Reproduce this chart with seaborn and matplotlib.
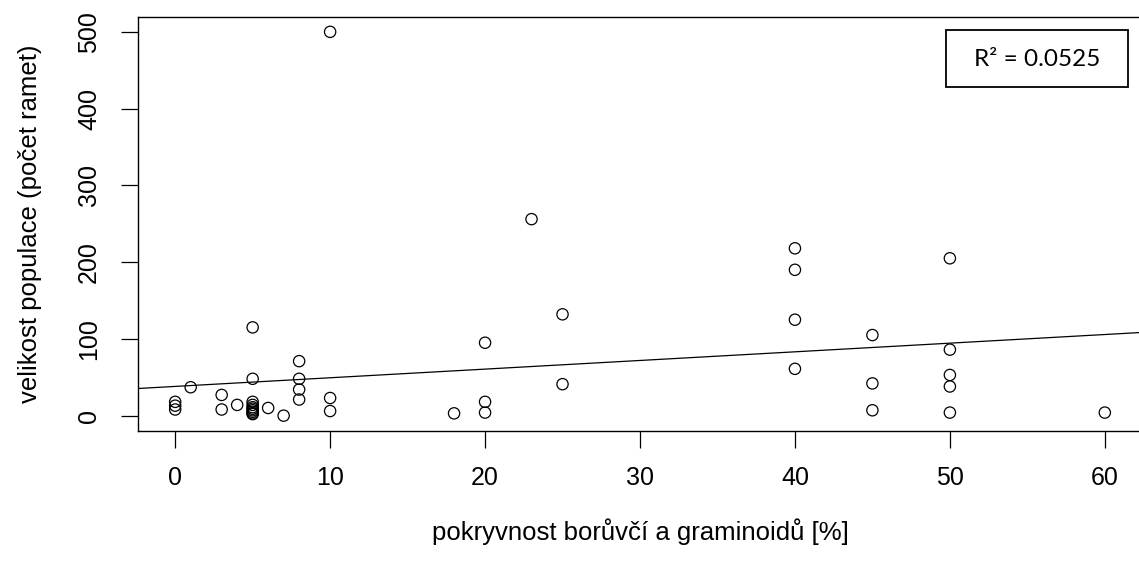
import numpy as np
import pandas as pd
import matplotlib
matplotlib.use("Agg")
import matplotlib.pyplot as plt
import seaborn as sns
from matplotlib.patches import Rectangle

# cover of bilberry and graminoids [%] and population size (number of ramets)
cover = [0, 0, 0, 1, 3, 3, 4,
         5, 5, 5, 5, 5, 5, 5, 5, 5, 5,
         6, 7, 8, 8, 8, 8, 10, 10, 10,
         18, 20, 20, 20, 23, 25, 25,
         40, 40, 40, 40, 45, 45, 45,
         50, 50, 50, 50, 50, 60]
ramets = [18, 13, 8, 37, 27, 8, 14,
          115, 48, 18, 14, 11, 9, 7, 5, 3, 2,
          10, 0, 71, 48, 34, 21, 500, 23, 6,
          3, 95, 18, 4, 256, 132, 41,
          218, 190, 125, 61, 105, 42, 7,
          205, 86, 53, 38, 4, 4]

x_ticks = [0, 10, 20, 30, 40, 50, 60]
y_ticks = [0, 100, 200, 300, 400, 500]
x_label = "pokryvnost borůvčí a graminoidů [%]"
y_label = "velikost populace (počet ramet)"
r2_text = "R² = 0.0525"

df = pd.DataFrame({"cover": cover, "ramets": ramets})

sns.set_theme(style="white")
plt.rcParams["font.family"] = ["Liberation Sans", "DejaVu Sans"]

fig = plt.figure(figsize=(11.39, 5.67), dpi=100)
fig.patch.set_facecolor("white")
# the plot region runs a little past the right edge of the figure
ax = fig.add_axes([138 / 1139, 136 / 567, 1004 / 1139, 414.5 / 567])
ax.set_facecolor("white")

# R-style 4 % padding around the data range
xmin, xmax = min(cover), max(cover)
ymin, ymax = min(ramets), max(ramets)
xpad = 0.04 * (xmax - xmin)
ypad = 0.04 * (ymax - ymin)
ax.set_xlim(xmin - xpad, xmax + xpad)
ax.set_ylim(ymin - ypad, ymax + ypad)

sns.scatterplot(data=df, x="cover", y="ramets", ax=ax, marker="o",
                s=66, facecolor="none", edgecolor="black", linewidth=0.9,
                legend=False)
sns.regplot(data=df, x="cover", y="ramets", ax=ax, scatter=False,
            ci=None, truncate=False, color="black",
            line_kws={"linewidth": 0.9})

for side in ["left", "bottom", "top", "right"]:
    ax.spines[side].set_visible(True)
    ax.spines[side].set_color("black")
    ax.spines[side].set_linewidth(1.0)

ax.set_xticks(x_ticks)
ax.set_yticks(y_ticks)
ax.set_xticklabels([str(t) for t in x_ticks])
ax.set_yticklabels([str(t) for t in y_ticks], rotation=90, va="center")
ax.tick_params(axis="both", direction="out", length=12.5, width=0.9,
               color="black", labelsize=18, labelcolor="black",
               bottom=True, left=True, top=False, right=False)
ax.tick_params(axis="x", pad=13)
ax.tick_params(axis="y", pad=14)

ax.set_xlabel(x_label, fontsize=18.5, color="black", labelpad=20)
ax.set_ylabel(y_label, fontsize=18.5, color="black", labelpad=25)

# R² annotation box
fig.patches.append(Rectangle((946 / 1139, 1 - 87 / 567), 182 / 1139, 57 / 567,
                             transform=fig.transFigure, facecolor="white",
                             edgecolor="black", linewidth=1.3))
fig.text(1037 / 1139, 1 - 59 / 567, r2_text, ha="center", va="center",
         fontsize=17.5, family=["Lato", "DejaVu Sans"], color="black")

fig.savefig("out.png", dpi=100, facecolor="white")
